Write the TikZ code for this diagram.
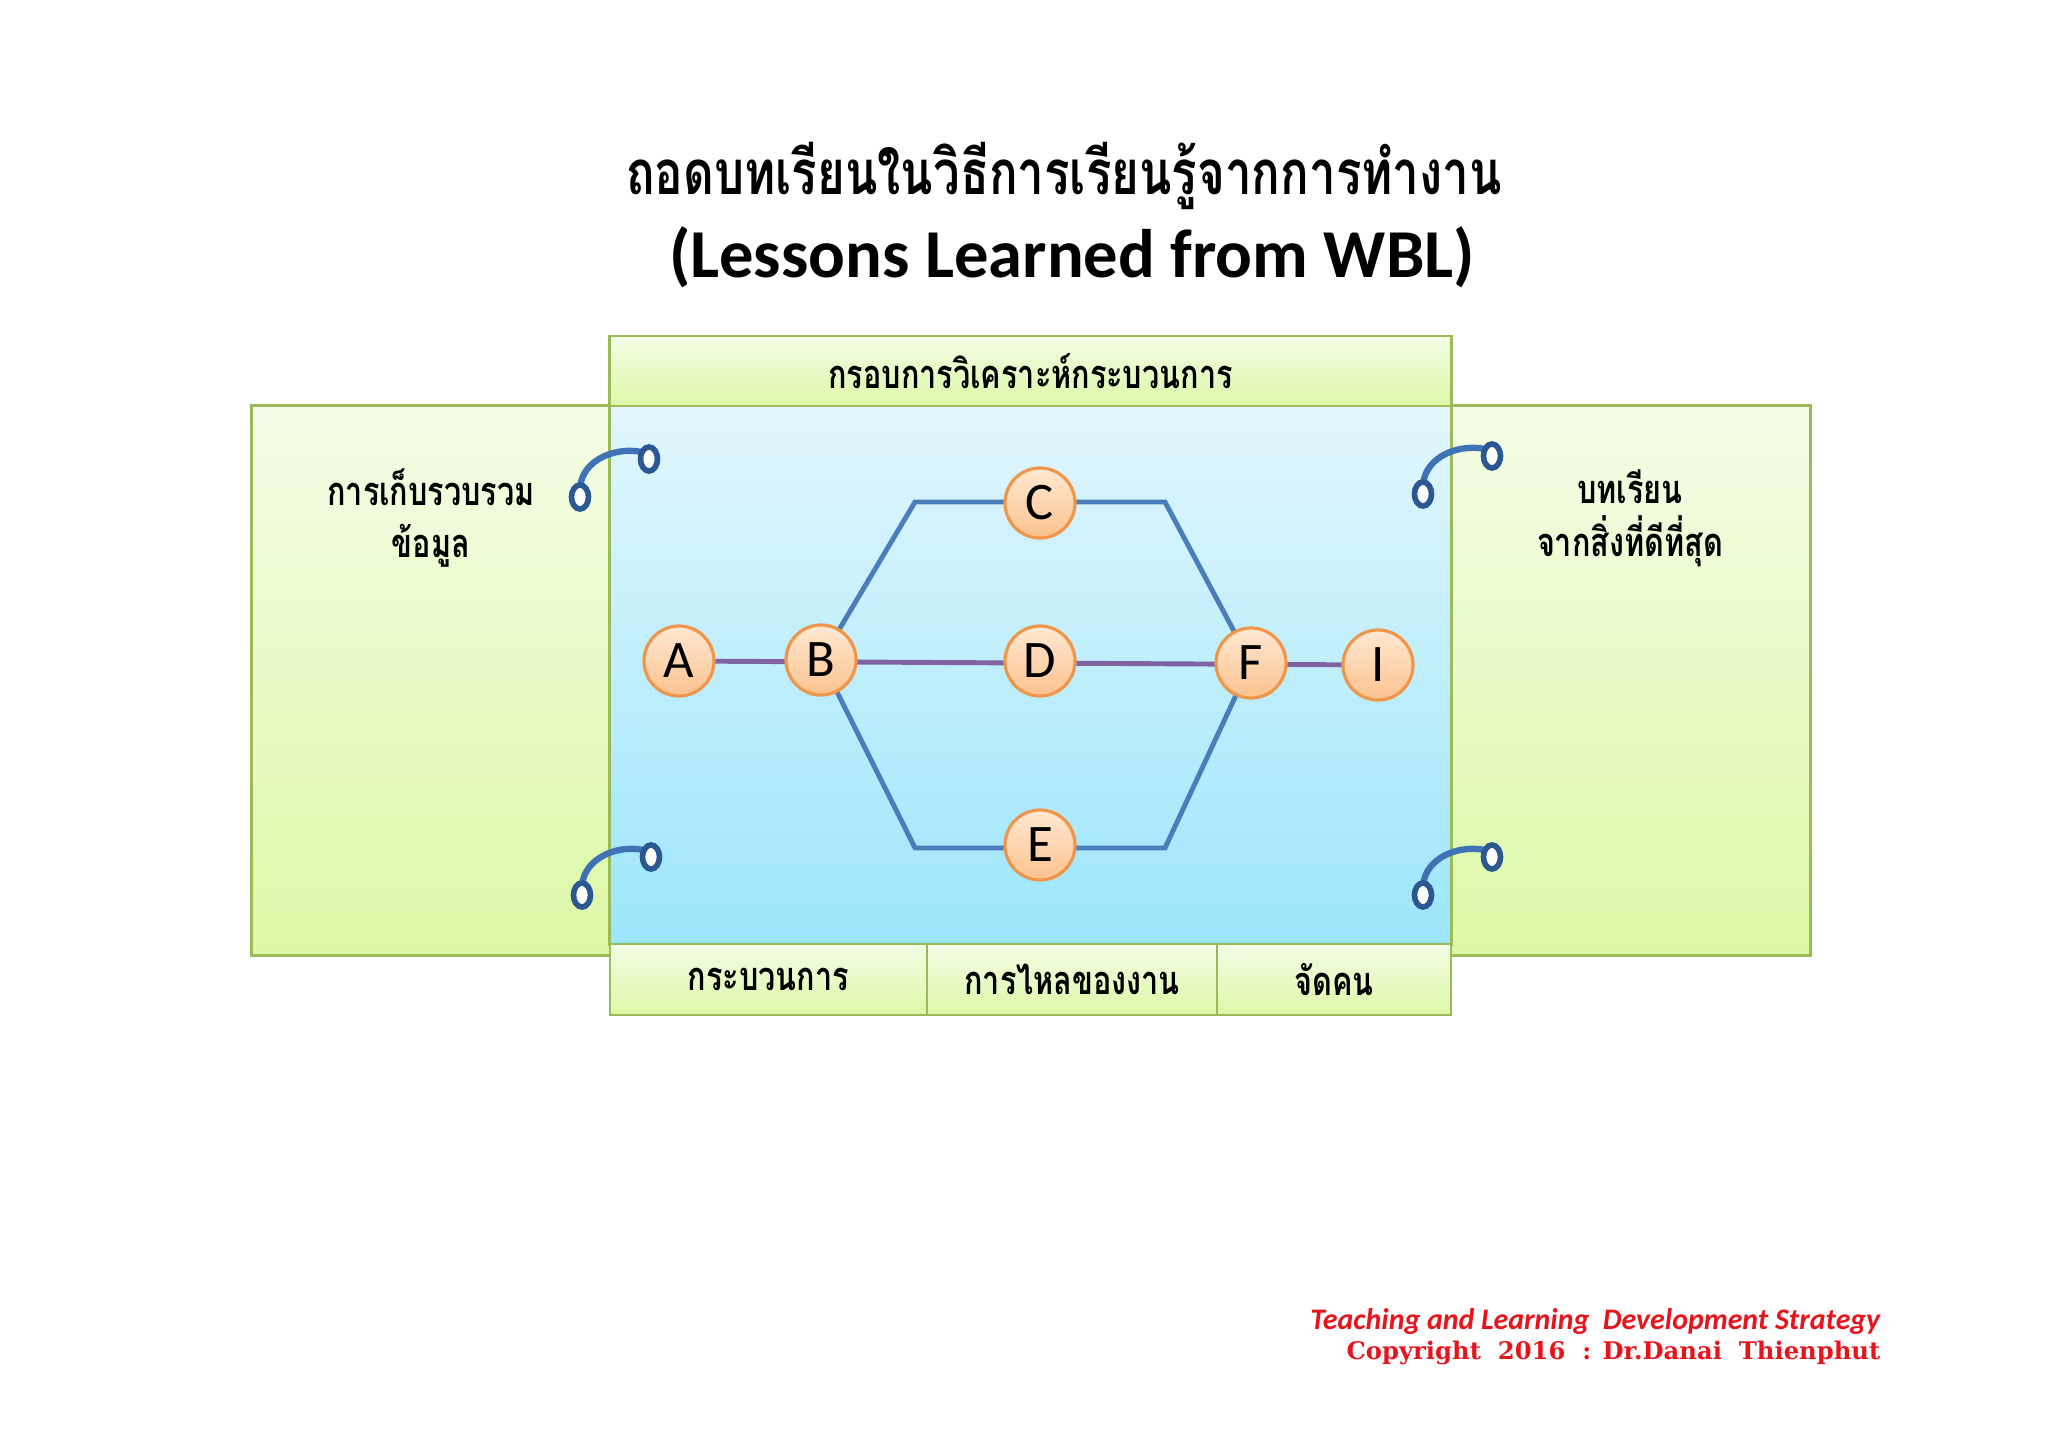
\documentclass[tikz,border=0pt]{standalone}
\usepackage{graphicx}
\usepackage{fontspec}
\setmainfont{Carlito}
\newfontfamily\thaifont[Script=Thai]{Loma}
\newfontfamily\copyfont{DejaVu Serif}
\usetikzlibrary{positioning,shapes.geometric}
\newcommand{\tallthai}[1]{\scalebox{1}[1.3]{#1}}
\definecolor{boxedge}{HTML}{9BBB59}
\definecolor{greentop}{HTML}{F4FCE6}
\definecolor{greenbot}{HTML}{DCF8A6}
\definecolor{bluetop}{HTML}{E2F6FD}
\definecolor{bluebot}{HTML}{9CE6FB}
\definecolor{nodeedge}{HTML}{F0964A}
\definecolor{nodetop}{HTML}{FFE8D2}
\definecolor{nodebot}{HTML}{FBC28E}
\definecolor{pathblue}{HTML}{4A7EBB}
\definecolor{pathpurple}{HTML}{8064A2}
\definecolor{hookblue}{HTML}{3F73B6}
\definecolor{ringblue}{HTML}{2C5891}
\definecolor{footred}{HTML}{E8141C}
\begin{document}
\begin{tikzpicture}[x=0.01cm,y=-0.01cm,
    main node/.style={circle,draw=nodeedge,line width=0.9pt,top color=nodetop,bottom color=nodebot,
                      minimum size=0.7cm,inner sep=0pt,font=\fontsize{15}{15}\selectfont},
    green box/.style={rectangle,draw=boxedge,line width=0.8pt,top color=greentop,bottom color=greenbot,inner sep=0pt},
    blue box/.style={rectangle,draw=boxedge,line width=0.8pt,top color=bluetop,bottom color=bluebot,inner sep=0pt},
    box text/.style={align=center,font=\thaifont\bfseries\fontsize{8.7}{15}\selectfont},
    upper line/.style={draw=pathblue,line width=1.4pt},
    main line/.style={draw=pathpurple,line width=1.4pt},
    ring/.style={ellipse,draw=ringblue,fill=white,line width=1.6pt,minimum width=0.17cm,minimum height=0.24cm,inner sep=0pt},
    hook/.style={draw=hookblue,line width=1.8pt}
  ]
  \useasboundingbox (0,0) rectangle (2048,1448);

  % title
  \node[font=\thaifont\bfseries\fontsize{13.5}{16}\selectfont] (title) at (1064,176) {\tallthai{ถอดบทเรียนในวิธีการเรียนรู้จากการทำงาน}};
  \node[font=\bfseries\fontsize{19.5}{20}\selectfont] (subtitle) at (1072,257) {(Lessons Learned from WBL)};

  % frame boxes
  \node[green box,minimum width=3.58cm,minimum height=5.49cm] (leftbox) at (431,680.5) {};
  \node[green box,minimum width=3.59cm,minimum height=5.49cm] (rightbox) at (1630.5,680.5) {};
  \node[blue box,minimum width=8.41cm,minimum height=5.38cm] (centre) at (1030.5,675) {};
  \node[green box,box text,minimum width=8.41cm,minimum height=0.70cm] (header) at (1030.5,371) {\tallthai{กรอบการวิเคราะห์กระบวนการ}};
  \node[green box,box text,minimum width=3.17cm,minimum height=0.71cm] (process) at (768.5,979.5) {\tallthai{กระบวนการ}};
  \node[green box,box text,minimum width=2.90cm,minimum height=0.71cm] (flow) at (1072,979.5) {\tallthai{การไหลของงาน}};
  \node[green box,box text,minimum width=2.34cm,minimum height=0.71cm] (staff) at (1334,979.5) {\tallthai{จัดคน}};

  \node[box text] (collect) at (431,518) {\tallthai{การเก็บรวบรวม}\\\tallthai{ข้อมูล}};
  \node[box text] (lesson) at (1630,518) {\tallthai{บทเรียน}\\\tallthai{จากสิ่งที่ดีที่สุด}};

  % corners of the two branches
  \coordinate (bc) at (915,502);
  \coordinate (cf) at (1165,502);
  \coordinate (be) at (915,848);
  \coordinate (ef) at (1165,848);

  \draw[upper line] (821,660) -- (bc) -- (cf) -- (1251,663);
  \draw[upper line] (821,660) -- (be) -- (ef) -- (1251,663);
  \draw[main line] (679,661) -- (1378,665);

  \node[main node] (A) at (679,661) {A};
  \node[main node] (B) at (821,660) {B};
  \node[main node] (C) at (1040,503) {C};
  \node[main node] (D) at (1040,661) {D};
  \node[main node] (E) at (1040,845) {E};
  \node[main node] (F) at (1251,663) {F};
  \node[main node] (I) at (1378,665) {I};

  % hooks
  \foreach \hx/\hy [count=\i] in {580/497,1423/494,582/895,1423/895}{
    \draw[hook] (\hx,\hy-9) .. controls (\hx+2,\hy-38) and (\hx+38,\hy-52) .. (\hx+66,\hy-44);
    \node[ring] (lo\i) at (\hx,\hy) {};
    \node[ring] (hi\i) at (\hx+69,\hy-38) {};
  }

  % footer
  \node[anchor=east,inner sep=0pt,text=footred,font=\bfseries\itshape\fontsize{8.5}{9}\selectfont] (strategy) at (1881,1322) {Teaching and Learning\ \ Development Strategy};
  \node[anchor=east,inner sep=0pt,text=footred,font=\copyfont\bfseries\fontsize{6.9}{7}\selectfont] (copy) at (1881,1353) {Copyright\ \ 2016\ \ : Dr.Danai\ \ Thienphut};
\end{tikzpicture}
\end{document}
